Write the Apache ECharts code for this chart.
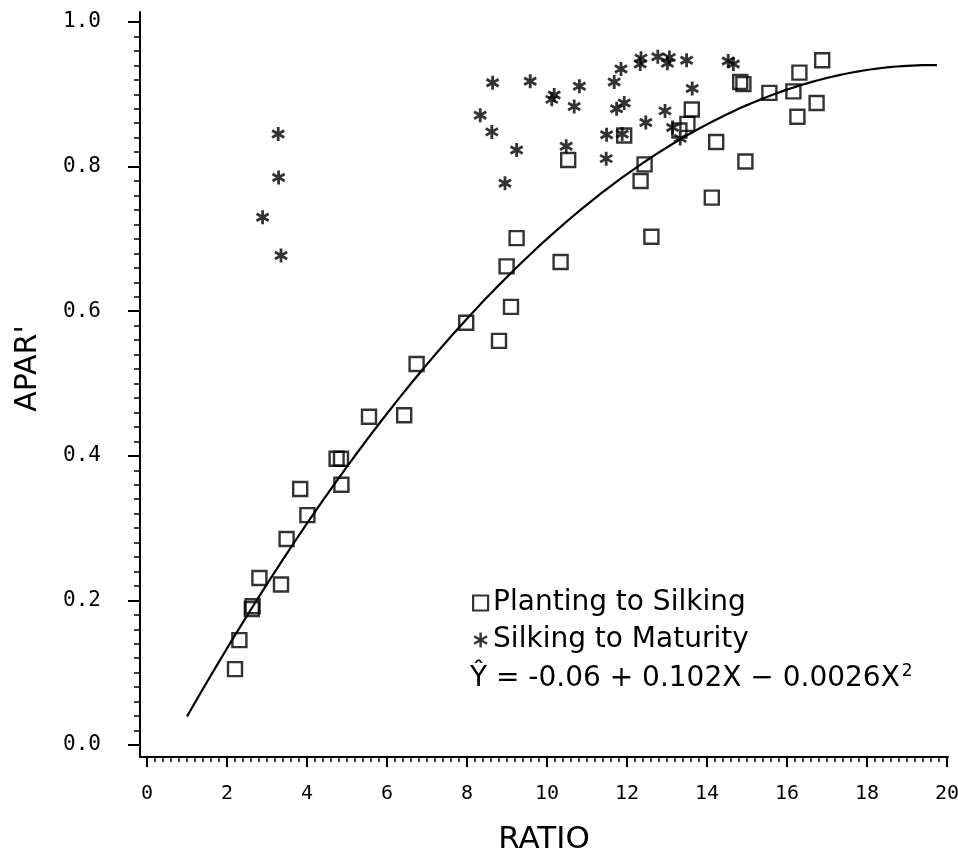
<!DOCTYPE html>
<html>
<head>
<meta charset="utf-8">
<script src="https://cdn.jsdelivr.net/npm/echarts@6/dist/echarts.min.js"></script>
<style>
html,body{margin:0;padding:0;background:#fff;}
#chart{width:958px;height:856px;}
</style>
</head>
<body>
<div id="chart"></div>
<script>
// ---- Data ----
const plantX = [2.20, 2.31, 2.64, 2.62, 2.81, 3.35, 3.49, 3.83, 4.01, 4.74, 4.85, 4.86, 5.55, 6.43, 6.74, 7.98, 8.80, 8.99, 9.10, 9.24, 10.34, 10.53, 11.93, 12.34, 12.44, 12.61, 13.31, 13.51, 13.62, 14.23, 14.12, 14.83, 14.91, 14.96, 15.56, 16.16, 16.26, 16.31, 16.74, 16.88];
const plantY = [0.105, 0.145, 0.192, 0.188, 0.231, 0.222, 0.285, 0.354, 0.318, 0.396, 0.396, 0.360, 0.454, 0.456, 0.527, 0.584, 0.559, 0.662, 0.606, 0.701, 0.668, 0.809, 0.843, 0.780, 0.803, 0.703, 0.850, 0.859, 0.879, 0.834, 0.757, 0.917, 0.914, 0.807, 0.902, 0.904, 0.869, 0.930, 0.888, 0.947];

const silkX = [2.89, 3.28, 3.29, 3.35, 8.33, 8.62, 8.64, 8.95, 9.24, 9.58, 10.12, 10.18, 10.48, 10.68, 10.81, 11.48, 11.49, 11.68, 11.74, 11.85, 11.88, 11.93, 12.33, 12.35, 12.47, 12.77, 12.95, 13.01, 13.06, 13.14, 13.33, 13.49, 13.63, 14.53, 14.66];
const silkY = [0.730, 0.845, 0.785, 0.677, 0.871, 0.848, 0.916, 0.777, 0.823, 0.918, 0.893, 0.899, 0.828, 0.883, 0.911, 0.811, 0.844, 0.917, 0.880, 0.935, 0.845, 0.888, 0.942, 0.950, 0.861, 0.952, 0.877, 0.943, 0.951, 0.854, 0.839, 0.947, 0.908, 0.946, 0.942];

// fitted equation shown on the chart: Y = b0 + b1 X + b2 X^2
const fitCoef = [-0.06, 0.102, -0.0026];
const fitRange = [1.0, 19.75];

const xTickLabels = [0, 2, 4, 6, 8, 10, 12, 14, 16, 18, 20];
const yTickLabels = [0.0, 0.2, 0.4, 0.6, 0.8, 1.0];

const seriesNames = ['Planting to Silking', 'Silking to Maturity'];

// ---- build ----
const plantData = plantX.map((x, i) => [x, plantY[i]]);
const silkData = silkX.map((x, i) => [x, silkY[i]]);
const fitData = [];
for (let k = 0; k <= 150; k++) {
  const x = fitRange[0] + (fitRange[1] - fitRange[0]) * k / 150;
  fitData.push([x, fitCoef[0] + fitCoef[1] * x + fitCoef[2] * x * x]);
}
const xMinor = [];
for (let k = 0; k <= 100; k++) { if (k % 10 !== 0) xMinor.push(+(k * 0.2).toFixed(2)); }
const yMinor = [];
for (let k = 0; k <= 50; k++) { if (k % 10 !== 0) yMinor.push(+(k * 0.02).toFixed(3)); }

const X_MIN = -0.175, X_MAX = 20.025, Y_MIN = -0.0166, Y_MAX = 1.0138;
const starPath = 'path://M10,0L10,20M1.34,5L18.66,15M1.34,15L18.66,5';
const monoFont = 'DejaVu Sans Mono';
const sansFont = 'DejaVu Sans';

const chart = echarts.init(document.getElementById('chart'), null, {renderer: 'canvas'});
chart.setOption({
  animation: false,
  backgroundColor: '#fff',
  grid: {left: 140, right: 10, top: 12, bottom: 99, containLabel: false, outerBoundsMode: 'none'},
  legend: {
    data: [
      {name: seriesNames[0], itemStyle: {color: 'rgba(255,255,255,0)', borderColor: '#000', borderWidth: 2.2}},
      {name: seriesNames[1], icon: starPath, itemStyle: {color: 'rgba(0,0,0,0)', borderColor: '#000', borderWidth: 2.4}}
    ],
    orient: 'vertical',
    left: 467,
    top: 584,
    itemWidth: 15,
    itemHeight: 15,
    itemGap: 9,
    textStyle: {fontFamily: sansFont, fontSize: 28, color: '#000'},
    selectedMode: false
  },
  graphic: [{
    type: 'text',
    left: 470,
    top: 663,
    style: {
      text: 'Ŷ = -0.06 + 0.102X − 0.0026X{s|2}',
      font: '28px "DejaVu Sans"',
      fill: '#000',
      rich: {s: {fontFamily: sansFont, fontSize: 17, verticalAlign: 'top', padding: [0, 0, 14, 2], fill: '#000'}}
    }
  }],
  xAxis: [{
    type: 'value', min: X_MIN, max: X_MAX,
    name: 'RATIO', nameLocation: 'middle', nameGap: 67,
    nameTextStyle: {fontFamily: sansFont, fontSize: 31, color: '#000'},
    axisLine: {show: true, onZero: false, lineStyle: {color: '#000', width: 2}},
    axisTick: {show: true, customValues: xTickLabels, length: 10, lineStyle: {color: '#000', width: 2}},
    axisLabel: {show: true, customValues: xTickLabels, margin: 27, fontFamily: monoFont, fontSize: 20, color: '#000'},
    splitLine: {show: false}
  }, {
    type: 'value', min: X_MIN, max: X_MAX, position: 'bottom',
    axisLine: {show: false, onZero: false},
    axisTick: {show: true, customValues: xMinor, length: 5, lineStyle: {color: '#000', width: 1.5}},
    axisLabel: {show: false},
    splitLine: {show: false}
  }],
  yAxis: [{
    type: 'value', min: Y_MIN, max: Y_MAX,
    name: "APAR'", nameLocation: 'middle', nameGap: 97, nameRotate: 90,
    nameTextStyle: {fontFamily: sansFont, fontSize: 30, color: '#000', padding: [0, 0, 0, 32]},
    axisLine: {show: true, onZero: false, lineStyle: {color: '#000', width: 2}},
    axisTick: {show: true, customValues: yTickLabels, length: 12, lineStyle: {color: '#000', width: 2}},
    axisLabel: {show: true, customValues: yTickLabels, margin: 39, fontFamily: monoFont, fontSize: 21, color: '#000',
      formatter: v => v.toFixed(1)},
    splitLine: {show: false}
  }, {
    type: 'value', min: Y_MIN, max: Y_MAX, position: 'left',
    axisLine: {show: false, onZero: false},
    axisTick: {show: true, customValues: yMinor, length: 6, lineStyle: {color: '#000', width: 1.5}},
    axisLabel: {show: false},
    splitLine: {show: false}
  }],
  series: [{
    name: seriesNames[0], type: 'scatter', data: plantData,
    symbol: 'rect', symbolSize: 14,
    itemStyle: {color: 'rgba(255,255,255,0)', borderColor: '#000', borderWidth: 2.4},
    z: 3
  }, {
    name: seriesNames[1], type: 'scatter', data: silkData,
    symbol: starPath, symbolSize: 14, symbolKeepAspect: true,
    itemStyle: {color: 'rgba(0,0,0,0)', borderColor: '#000', borderWidth: 2.8},
    z: 4
  }, {
    name: 'fit', type: 'line', data: fitData, showSymbol: false, smooth: false,
    lineStyle: {color: '#000', width: 2.2}, silent: true, z: 2
  }]
});
</script>
</body>
</html>
